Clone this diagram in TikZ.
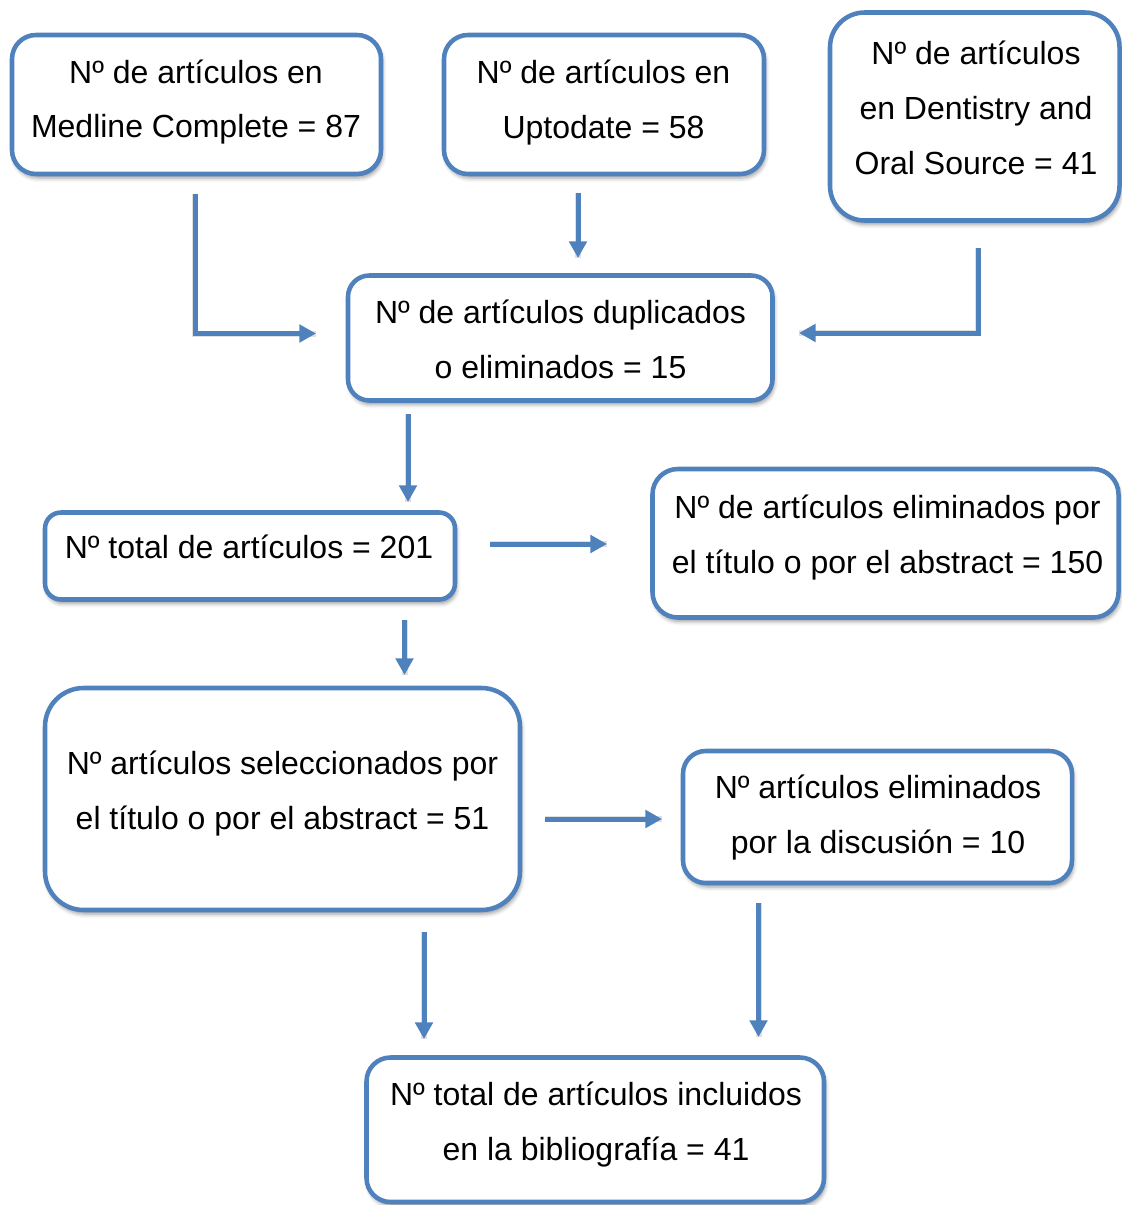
\documentclass[tikz,border=0pt]{standalone}
\usepackage{fontspec}
\setmainfont{Liberation Sans}
\usetikzlibrary{arrows.meta,shadows.blur,fit}
\definecolor{frameblue}{HTML}{4F81BD}
% strut giving every text line the same height and depth
\newcommand\lnst{\rule[-11.9pt]{0pt}{41pt}}

\begin{document}
\begin{tikzpicture}[x=0.75pt,y=-0.75pt,
  box/.style={draw=frameblue, line width=3.4pt, fill=white, inner sep=0pt,
    blur shadow={shadow xshift=1.2pt, shadow yshift=-3pt,
      shadow blur radius=3pt, shadow opacity=40}},
  txt/.style={align=center, inner sep=0pt, font=\fontsize{24}{41}\selectfont},
  arrshadow/.style={draw=black, opacity=0.12, line width=4.5pt, line join=miter},
  arr/.style={draw=frameblue, line width=3.75pt, line join=miter,
    -{Triangle[length=12.5pt,width=13pt]}},
]
\useasboundingbox (0,0) rectangle (1121,1205);

% ---- boxes ----
\node[box, rounded corners=18pt, fit={(12,35)(381,174)}] (med) {};
\node[box, rounded corners=18pt, fit={(444,35)(764,174)}] (upt) {};
\node[box, rounded corners=26pt, fit={(830,12.5)(1119.5,220.5)}] (den) {};
\node[box, rounded corners=16pt, fit={(348,275.5)(772.5,400.5)}] (dup) {};
\node[box, rounded corners=12pt, fit={(45,512.5)(455,599.5)}] (tot) {};
\node[box, rounded corners=19pt, fit={(652.5,469)(1118.5,617.5)}] (elt) {};
\node[box, rounded corners=29pt, fit={(45,688)(520,910)}] (sel) {};
\node[box, rounded corners=17pt, fit={(683,751)(1072,883)}] (eld) {};
\node[box, rounded corners=18pt, fit={(366.5,1057.5)(824,1202)}] (inc) {};

% ---- texts ----
\node[txt] (medT) at (196,99.2) {\lnst Nº de artículos en\\\lnst Medline Complete = 87};
\node[txt] (uptT) at (603.5,99.5) {\lnst Nº de artículos en\\\lnst Uptodate = 58};
\node[txt] (denT) at (976,108) {\lnst Nº de artículos\\\lnst en Dentistry and\\\lnst Oral Source = 41};
\node[txt] (dupT) at (560.5,339.5) {\lnst Nº de artículos duplicados\\\lnst o eliminados = 15};
\node[txt] (totT) at (249,547) {\lnst Nº total de artículos = 201};
\node[txt] (eltT) at (887.5,534.5) {\lnst Nº de artículos eliminados por\\\lnst el título o por el abstract = 150};
\node[txt] (selT) at (282.5,790.5) {\lnst Nº artículos seleccionados por\\\lnst el título o por el abstract = 51};
\node[txt] (eldT) at (878,814.5) {\lnst Nº artículos eliminados\\\lnst por la discusión = 10};
\node[txt] (incT) at (596,1121.5) {\lnst Nº total de artículos incluidos\\\lnst en la bibliografía = 41};

% ---- connector end points ----
\coordinate (a1s) at (195,194);   \coordinate (a1k) at (195,333.5); \coordinate (a1e) at (316,333.5);
\coordinate (a2s) at (578,193);   \coordinate (a2e) at (578,258);
\coordinate (a3s) at (978,248);   \coordinate (a3k) at (978,333);   \coordinate (a3e) at (799,333);
\coordinate (a4s) at (408,414);   \coordinate (a4e) at (408,502);
\coordinate (a5s) at (490,544);   \coordinate (a5e) at (607,544);
\coordinate (a6s) at (404.5,620); \coordinate (a6e) at (404.5,675);
\coordinate (a7s) at (545,819);   \coordinate (a7e) at (662,819);
\coordinate (a8s) at (424,932);   \coordinate (a8e) at (424,1039);
\coordinate (a9s) at (758.5,903); \coordinate (a9e) at (758.5,1037);

% ---- faint shadows under the connectors ----
\begin{scope}[shift={(2,3)}]
\draw[arrshadow] (a1s) -- (a1k) -- (a1e);
\draw[arrshadow] (a2s) -- (a2e);
\draw[arrshadow] (a3s) -- (a3k) -- (a3e);
\draw[arrshadow] (a4s) -- (a4e);
\draw[arrshadow] (a5s) -- (a5e);
\draw[arrshadow] (a6s) -- (a6e);
\draw[arrshadow] (a7s) -- (a7e);
\draw[arrshadow] (a8s) -- (a8e);
\draw[arrshadow] (a9s) -- (a9e);
\end{scope}

% ---- connectors ----
\draw[arr] (a1s) -- (a1k) -- (a1e);
\draw[arr] (a2s) -- (a2e);
\draw[arr] (a3s) -- (a3k) -- (a3e);
\draw[arr] (a4s) -- (a4e);
\draw[arr] (a5s) -- (a5e);
\draw[arr] (a6s) -- (a6e);
\draw[arr] (a7s) -- (a7e);
\draw[arr] (a8s) -- (a8e);
\draw[arr] (a9s) -- (a9e);
\end{tikzpicture}
\end{document}
